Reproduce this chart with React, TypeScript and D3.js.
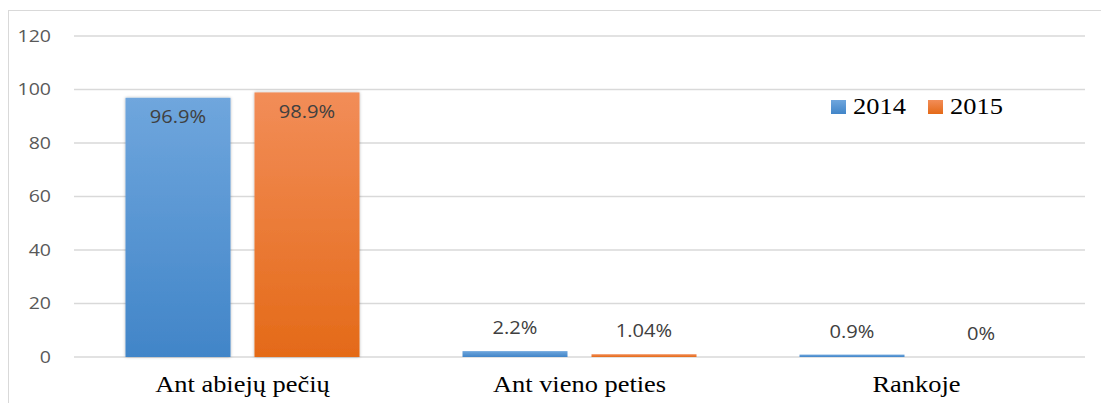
import React from "react";
import * as d3 from "d3";

const categories = ["Ant abiejų pečių", "Ant vieno peties", "Rankoje"];
const series2014 = [96.9, 2.2, 0.9];
const series2015 = [98.9, 1.04, 0];
const labels2014 = ["96.9%", "2.2%", "0.9%"];
const labels2015 = ["98.9%", "1.04%", "0%"];
const seriesNames = ["2014", "2015"];
const yTicks = [0, 20, 40, 60, 80, 100, 120];

const W = 1101;
const H = 403;
const SX = 1.15;

function T(props: { x: number; y: number; anchor?: string; family: string; size: number; fill: string; dy?: string; children: React.ReactNode }) {
  return (
    <g transform={`translate(${props.x},${props.y}) scale(${SX},1)`}>
      <text x={0} y={0} dy={props.dy} textAnchor={props.anchor || "start"} fontFamily={props.family} fontSize={props.size} fill={props.fill}>
        {props.children}
      </text>
    </g>
  );
}

const SANS = "'Open Sans', sans-serif";
const SERIF = "'Liberation Serif', 'Times New Roman', serif";

export default function App() {
  const x0 = d3.scaleBand<string>().domain(categories).range([74, 1085]).paddingInner(0).paddingOuter(0);
  const y = d3.scaleLinear().domain([0, 120]).range([357, 36]);
  const bw = x0.bandwidth();
  const barW = 105;
  const gap = 24;
  const x1 = (i: number) => (bw - (2 * barW + gap)) / 2 + i * (barW + gap);

  const series = [
    { name: seriesNames[0], values: series2014, labels: labels2014, grad: "gBlue" },
    { name: seriesNames[1], values: series2015, labels: labels2015, grad: "gOrange" },
  ];

  return (
    <svg width={W} height={H} style={{ position: "absolute", left: 0, top: 0 }}>
      <defs>
        <linearGradient id="gBlue" x1="0" y1="0" x2="0" y2="1">
          <stop offset="0" stopColor="#6fa6dd" />
          <stop offset="1" stopColor="#4185c8" />
        </linearGradient>
        <linearGradient id="gOrange" x1="0" y1="0" x2="0" y2="1">
          <stop offset="0" stopColor="#f28d58" />
          <stop offset="1" stopColor="#e46a18" />
        </linearGradient>
        <filter id="sh" x="-10%" y="-10%" width="120%" height="120%">
          <feDropShadow dx="0" dy="0" stdDeviation="1.5" floodColor="#000" floodOpacity="0.3" />
        </filter>
      </defs>
      <rect x={0} y={0} width={W} height={H} fill="#fff" />
      <line x1={8.5} y1={10} x2={8.5} y2={H} stroke="#d9d9d9" strokeWidth={1} />
      <line x1={8} y1={10.5} x2={W} y2={10.5} stroke="#d9d9d9" strokeWidth={1} />
      {yTicks.map((t) => (
        <g key={t}>
          <line x1={74} x2={1085} y1={y(t)} y2={y(t)} stroke="#d9d9d9" strokeWidth={1.3} />
          <T x={51} y={y(t)} dy="0.35em" anchor="end" family={SANS} size={17} fill="#595959">
            {t}
          </T>
        </g>
      ))}
      {series.map((s, si) =>
        categories.map((c, ci) => {
          const v = s.values[ci];
          const bx = (x0(c) as number) + x1(si);
          const by = y(v);
          const h = y(0) - by;
          const inside = h > 40;
          return (
            <g key={s.name + c}>
              {h > 0 && (
                <rect x={bx} y={by} width={barW} height={h} fill={`url(#${s.grad})`} filter={inside ? "url(#sh)" : undefined} />
              )}
              <T x={bx + barW / 2} y={inside ? by + 19 : by - 23} dy="0.35em" anchor="middle" family={SANS} size={17.5} fill="#404040">
                {s.labels[ci]}
              </T>
            </g>
          );
        })
      )}
      {categories.map((c) => (
        <T key={c} x={(x0(c) as number) + bw / 2} y={392} anchor="middle" family={SERIF} size={23} fill="#000">
          {c}
        </T>
      ))}
      {series.map((s, i) => (
        <g key={s.name} transform={`translate(${831 + i * 97},0)`}>
          <rect x={0} y={100} width={15} height={14} fill={`url(#${s.grad})`} />
          <T x={22} y={114} family={SERIF} size={23} fill="#000">
            {s.name}
          </T>
        </g>
      ))}
    </svg>
  );
}
